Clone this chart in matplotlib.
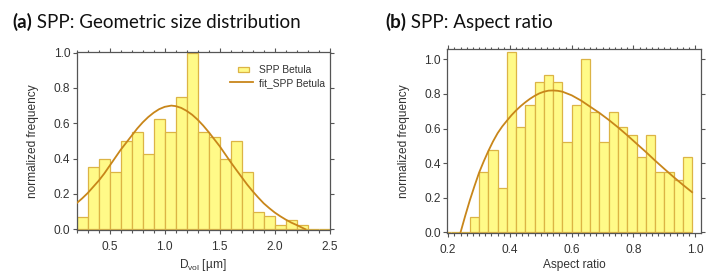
import matplotlib
matplotlib.use("Agg")
import matplotlib.pyplot as plt
from matplotlib.patches import Rectangle
from matplotlib.legend_handler import HandlerPatch
from matplotlib.ticker import MultipleLocator, FormatStrFormatter

# ---------------- data ----------------
# (a) geometric size distribution, bins of 0.1 um starting at 0.2
size_edges = [0.2, 0.3, 0.4, 0.5, 0.6, 0.7, 0.8, 0.9, 1.0, 1.1, 1.2, 1.3,
              1.4, 1.5, 1.6, 1.7, 1.8, 1.9, 2.0, 2.1, 2.2, 2.3, 2.4]
size_freq = [0.07, 0.35, 0.40, 0.325, 0.50, 0.55, 0.425, 0.625, 0.55, 0.75,
             1.00, 0.55, 0.525, 0.40, 0.50, 0.325, 0.10, 0.075, 0.025, 0.05,
             0.025, 0.0, 0.0]
size_fit_x = [0.2, 0.25, 0.3, 0.35, 0.4, 0.45, 0.5, 0.55, 0.6, 0.65, 0.7,
              0.75, 0.8, 0.85, 0.9, 0.95, 1.0, 1.06, 1.1, 1.15, 1.2, 1.25,
              1.3, 1.35, 1.4, 1.45, 1.5, 1.55, 1.6, 1.65, 1.7, 1.75, 1.8,
              1.85, 1.9, 1.95, 2.0, 2.05, 2.1, 2.15, 2.2, 2.25, 2.28]
size_fit_y = [0.148, 0.175, 0.205, 0.24, 0.275, 0.315, 0.36, 0.405, 0.45,
              0.49, 0.53, 0.57, 0.605, 0.635, 0.66, 0.68, 0.693, 0.70, 0.697,
              0.687, 0.67, 0.648, 0.62, 0.587, 0.55, 0.51, 0.47, 0.425, 0.38,
              0.337, 0.295, 0.253, 0.215, 0.18, 0.147, 0.12, 0.095, 0.074,
              0.055, 0.038, 0.024, 0.009, 0.0]

# (b) aspect ratio, bins of 0.03
ar_edges = [0.18, 0.21, 0.24, 0.27, 0.30, 0.33, 0.36, 0.39, 0.42, 0.45, 0.48,
            0.51, 0.54, 0.57, 0.60, 0.63, 0.66, 0.69, 0.72, 0.75, 0.78, 0.81,
            0.84, 0.87, 0.90, 0.93, 0.96]
ar_freq = [0.0, 0.0, 0.0, 0.087, 0.347, 0.476, 0.258, 1.04, 0.607, 0.738,
           0.867, 0.911, 0.867, 0.52, 0.738, 1.0, 0.694, 0.52, 0.694, 0.607,
           0.563, 0.434, 0.563, 0.347, 0.347, 0.30, 0.434]
ar_fit_x = [0.24, 0.255, 0.27, 0.285, 0.30, 0.315, 0.33, 0.345, 0.36, 0.375,
            0.39, 0.405, 0.42, 0.435, 0.45, 0.465, 0.48, 0.495, 0.51, 0.525,
            0.54, 0.555, 0.57, 0.60, 0.63, 0.66, 0.69, 0.72, 0.75, 0.78,
            0.81, 0.84, 0.87, 0.90, 0.93, 0.96, 0.99]
ar_fit_y = [0.0, 0.095, 0.185, 0.267, 0.345, 0.41, 0.47, 0.525, 0.573, 0.612,
            0.645, 0.677, 0.705, 0.73, 0.752, 0.772, 0.789, 0.803, 0.813,
            0.819, 0.82, 0.818, 0.813, 0.792, 0.762, 0.726, 0.69, 0.65,
            0.607, 0.561, 0.513, 0.465, 0.415, 0.367, 0.32, 0.275, 0.232]

legend_labels = ["SPP Betula", "fit_SPP Betula"]
titles = [("(a)", " SPP: Geometric size distribution"),
          ("(b)", " SPP: Aspect ratio")]
xlabels = [r"D$_{\rm vol}$ [µm]", "Aspect ratio"]
ylabel = "normalized frequency"

# ---------------- style ----------------
plt.rcParams["font.family"] = ["Liberation Sans", "DejaVu Sans"]
plt.rcParams["mathtext.fontset"] = "custom"
plt.rcParams["mathtext.rm"] = "Liberation Sans"
plt.rcParams["mathtext.it"] = "Liberation Sans:italic"

BAR_FACE = "#fffa88"
BAR_EDGE = "#dcb445"
FIT = "#c8861a"
SPINE = "#555555"
TXT = "#333333"
TICK_FS = 8.6
LEG_FS = 7.4

fig = plt.figure(figsize=(7.07, 2.72), dpi=100)
W, H = 707, 272


def px_axes(x0, y0, x1, y1):
    return fig.add_axes([x0 / W, 1 - y1 / H, (x1 - x0) / W, (y1 - y0) / H])


boxA = (76.7, 51.7, 329.7, 230.0)
boxB = (447.3, 49.3, 700.7, 233.0)
axA = px_axes(*boxA)
axB = px_axes(*boxB)


def style(ax, xmaj, xmin, ymaj):
    for s in ax.spines.values():
        s.set_color(SPINE)
        s.set_linewidth(0.9)
    ax.xaxis.set_major_locator(MultipleLocator(xmaj))
    ax.xaxis.set_minor_locator(MultipleLocator(xmin))
    ax.yaxis.set_major_locator(MultipleLocator(ymaj))
    ax.yaxis.set_major_formatter(FormatStrFormatter("%.1f"))
    ax.xaxis.set_major_formatter(FormatStrFormatter("%.1f"))
    ax.tick_params(which="both", direction="out", color=SPINE, width=0.8,
                   top=True, right=True, labelsize=TICK_FS, labelcolor=TXT)
    ax.tick_params(which="major", length=3.2)
    ax.tick_params(which="minor", length=1.8)
    ax.tick_params(axis="x", which="both", pad=4.8)
    ax.tick_params(axis="y", which="both", pad=1.5)
    ax.tick_params(axis="y", which="minor", left=False, right=False)


def place_labels(ax, box, xl):
    x0, y0, x1, y1 = box
    w, h = x1 - x0, y1 - y0
    ax.set_xlabel(xl, fontsize=TICK_FS, color=TXT, va="center")
    ax.xaxis.set_label_coords(0.5, -(265 - y1) / h)
    ax.set_ylabel(ylabel, fontsize=TICK_FS, color=TXT, va="center")
    ax.yaxis.set_label_coords(-43.5 / w, 0.5)


# ---- panel (a)
barsA = axA.bar(size_edges, size_freq, width=0.1, align="edge",
                color=BAR_FACE, edgecolor=BAR_EDGE, linewidth=0.9, zorder=2)
lineA, = axA.plot(size_fit_x, size_fit_y, color=FIT, lw=1.3, zorder=3)
axA.set_xlim(0.2, 2.5)
axA.set_ylim(-0.004, 1.005)
style(axA, 0.5, 0.1, 0.2)
place_labels(axA, boxA, xlabels[0])


def small_rect(legend, orig_handle, xdescent, ydescent, width, height, fontsize):
    w = width * 0.45
    h = height * 0.8
    return Rectangle((-xdescent + width * 0.35, -ydescent + (height - h) / 2),
                     w, h)


axA.legend([barsA.patches[1], lineA], legend_labels, loc="upper left",
           bbox_to_anchor=(0.605, 0.925), frameon=False, fontsize=LEG_FS,
           handlelength=2.3, handletextpad=0.5, labelspacing=0.25,
           borderpad=0, borderaxespad=0, labelcolor=TXT,
           handler_map={Rectangle: HandlerPatch(patch_func=small_rect)})

# ---- panel (b)
axB.bar(ar_edges, ar_freq, width=0.03, align="edge",
        color=BAR_FACE, edgecolor=BAR_EDGE, linewidth=0.9, zorder=2)
axB.plot(ar_fit_x, ar_fit_y, color=FIT, lw=1.3, zorder=3)
axB.set_xlim(0.197, 1.018)
axB.set_ylim(-0.004, 1.058)
style(axB, 0.2, 0.02, 0.2)
place_labels(axB, boxB, xlabels[1])

# ---- titles
renderer = fig.canvas.get_renderer()
for (bold, rest), x0 in zip(titles, [12, 385]):
    t = fig.text(x0 / W, 1 - 28 / H, bold, fontsize=13.5, fontweight="bold",
                 family=["Lato", "DejaVu Sans"], color="#111111",
                 va="baseline", ha="left")
    bb = t.get_window_extent(renderer)
    fig.text(bb.x1 / W, 1 - 28 / H, rest, fontsize=13.5,
             family=["Lato", "DejaVu Sans"], color="#111111",
             va="baseline", ha="left")

fig.savefig("out.png", dpi=100)
